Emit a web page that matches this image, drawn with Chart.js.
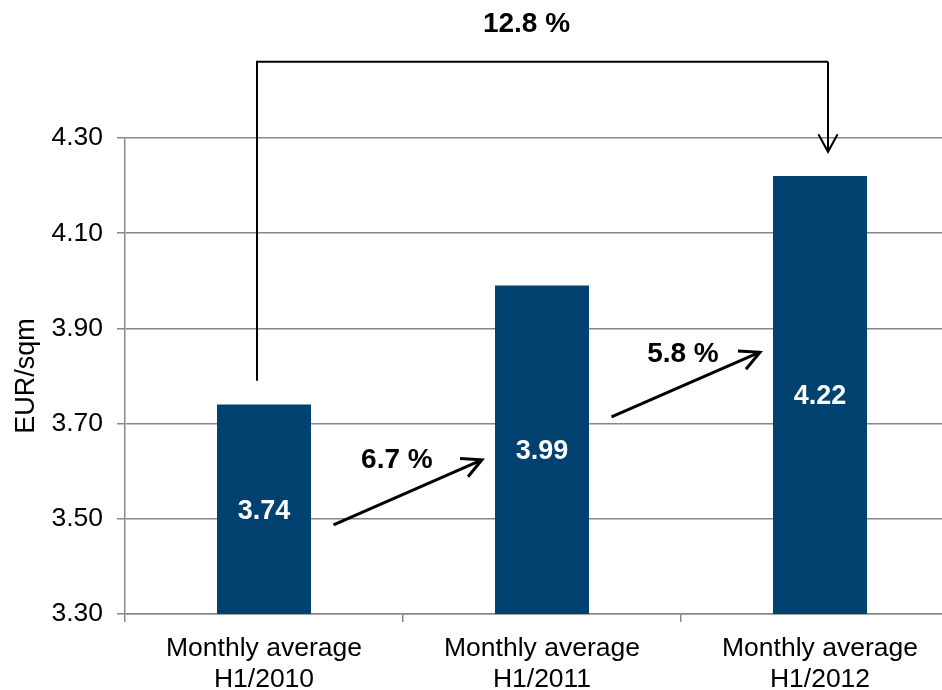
<!DOCTYPE html>
<html>
<head>
<meta charset="utf-8">
<script src="https://cdn.jsdelivr.net/npm/chart.js@4.4.1/dist/chart.umd.min.js"></script>
<style>
  html, body { margin: 0; padding: 0; background: #fff; overflow: hidden; }
  #wrap { width: 960px; height: 690px; }
</style>
</head>
<body>
<div id="wrap"><canvas id="rentChart" width="960" height="690"></canvas></div>
<script>
// data
const categories = [['Monthly average', 'H1/2010'], ['Monthly average', 'H1/2011'], ['Monthly average', 'H1/2012']];
const rentValues = [3.74, 3.99, 4.22];
const yearGrowth = ['6.7 %', '5.8 %'];
const totalGrowth = '12.8 %';
const yTicks = [3.30, 3.50, 3.70, 3.90, 4.10, 4.30];

const BAR_BLUE = '#00416F';
const FONT = '"Liberation Sans", Arial, sans-serif';

function arrowLine(ctx, x1, y1, x2, y2, head, spread) {
    const ang = Math.atan2(y2 - y1, x2 - x1);
    ctx.beginPath();
    ctx.moveTo(x1, y1);
    ctx.lineTo(x2, y2);
    ctx.moveTo(x2 - head * Math.cos(ang - spread), y2 - head * Math.sin(ang - spread));
    ctx.lineTo(x2, y2);
    ctx.lineTo(x2 - head * Math.cos(ang + spread), y2 - head * Math.sin(ang + spread));
    ctx.stroke();
}

// value labels, growth arrows and the bracket on top
const annotations = {
    id: 'annotations',
    afterDatasetsDraw(chart) {
        const ctx = chart.ctx;
        const xs = chart.scales.x, ys = chart.scales.y;
        ctx.save();

        // values inside the bars
        ctx.fillStyle = '#fff';
        ctx.font = 'bold 27px ' + FONT;
        ctx.textAlign = 'center';
        ctx.textBaseline = 'middle';
        rentValues.forEach((v, i) => {
            const top = ys.getPixelForValue(v);
            ctx.fillText(v.toFixed(2), xs.getPixelForValue(i), (top + ys.bottom) / 2 + 2);
        });

        // year over year arrows
        const step = xs.getPixelForValue(1) - xs.getPixelForValue(0);
        const labelShift = [0.478, 0.507];
        ctx.strokeStyle = '#000';
        ctx.lineWidth = 3;
        ctx.fillStyle = '#000';
        ctx.font = 'bold 28px ' + FONT;
        for (let i = 0; i < yearGrowth.length; i++) {
            const c0 = xs.getPixelForValue(i);
            const y1 = ys.getPixelForValue(3.487 + i * 0.227);
            const y2 = ys.getPixelForValue(3.624 + i * 0.226);
            arrowLine(ctx, c0 + step * 0.25, y1, c0 + step * 0.784, y2, 22, 0.47);
            ctx.fillText(yearGrowth[i], c0 + step * labelShift[i], ys.getPixelForValue(3.628 + i * 0.222) + 2);
        }

        // total bracket
        const bx1 = xs.getPixelForValue(0) - 7;
        const bx2 = xs.getPixelForValue(2) + 8;
        const yTop = ys.getPixelForValue(4.46);
        ctx.lineWidth = 2;
        ctx.beginPath();
        ctx.moveTo(bx1, ys.getPixelForValue(3.79));
        ctx.lineTo(bx1, yTop);
        ctx.lineTo(bx2, yTop);
        ctx.stroke();
        arrowLine(ctx, bx2, yTop, bx2, ys.getPixelForValue(4.271), 20, 0.5);
        ctx.fillText(totalGrowth, xs.getPixelForValue(1) - 15.5, yTop - 38);

        ctx.restore();
    }
};

new Chart(document.getElementById('rentChart'), {
    type: 'bar',
    data: {
        labels: categories,
        datasets: [{
            data: rentValues,
            backgroundColor: BAR_BLUE,
            barPercentage: 0.338,
            categoryPercentage: 1
        }]
    },
    options: {
        responsive: false,
        animation: false,
        layout: { padding: { top: 138, left: 0, right: 1, bottom: 0 } },
        plugins: { legend: { display: false }, tooltip: { enabled: false } },
        scales: {
            x: {
                grid: { display: true, drawOnChartArea: false, offset: true, color: '#888', lineWidth: 1.5, tickLength: 8 },
                border: { color: '#888', width: 1.5 },
                ticks: { color: '#000', font: { family: FONT, size: 26.5, lineHeight: 1.17 }, padding: 11, maxRotation: 0 },
                afterFit(scale) { scale.height = 76; }
            },
            y: {
                min: 3.30,
                max: 4.30,
                afterBuildTicks(scale) { scale.ticks = yTicks.map(v => ({ value: v })); },
                grid: { color: '#888', lineWidth: 1.5, tickLength: 8 },
                border: { color: '#888', width: 1.5 },
                ticks: { color: '#000', font: { family: FONT, size: 26.5 }, padding: 14, callback: v => v.toFixed(2) },
                title: { display: true, text: 'EUR/sqm', color: '#000', font: { family: FONT, size: 27 }, padding: { top: 10, bottom: 0 } },
                afterFit(scale) { scale.width = 125; }
            }
        }
    },
    plugins: [annotations]
});
</script>
</body>
</html>
